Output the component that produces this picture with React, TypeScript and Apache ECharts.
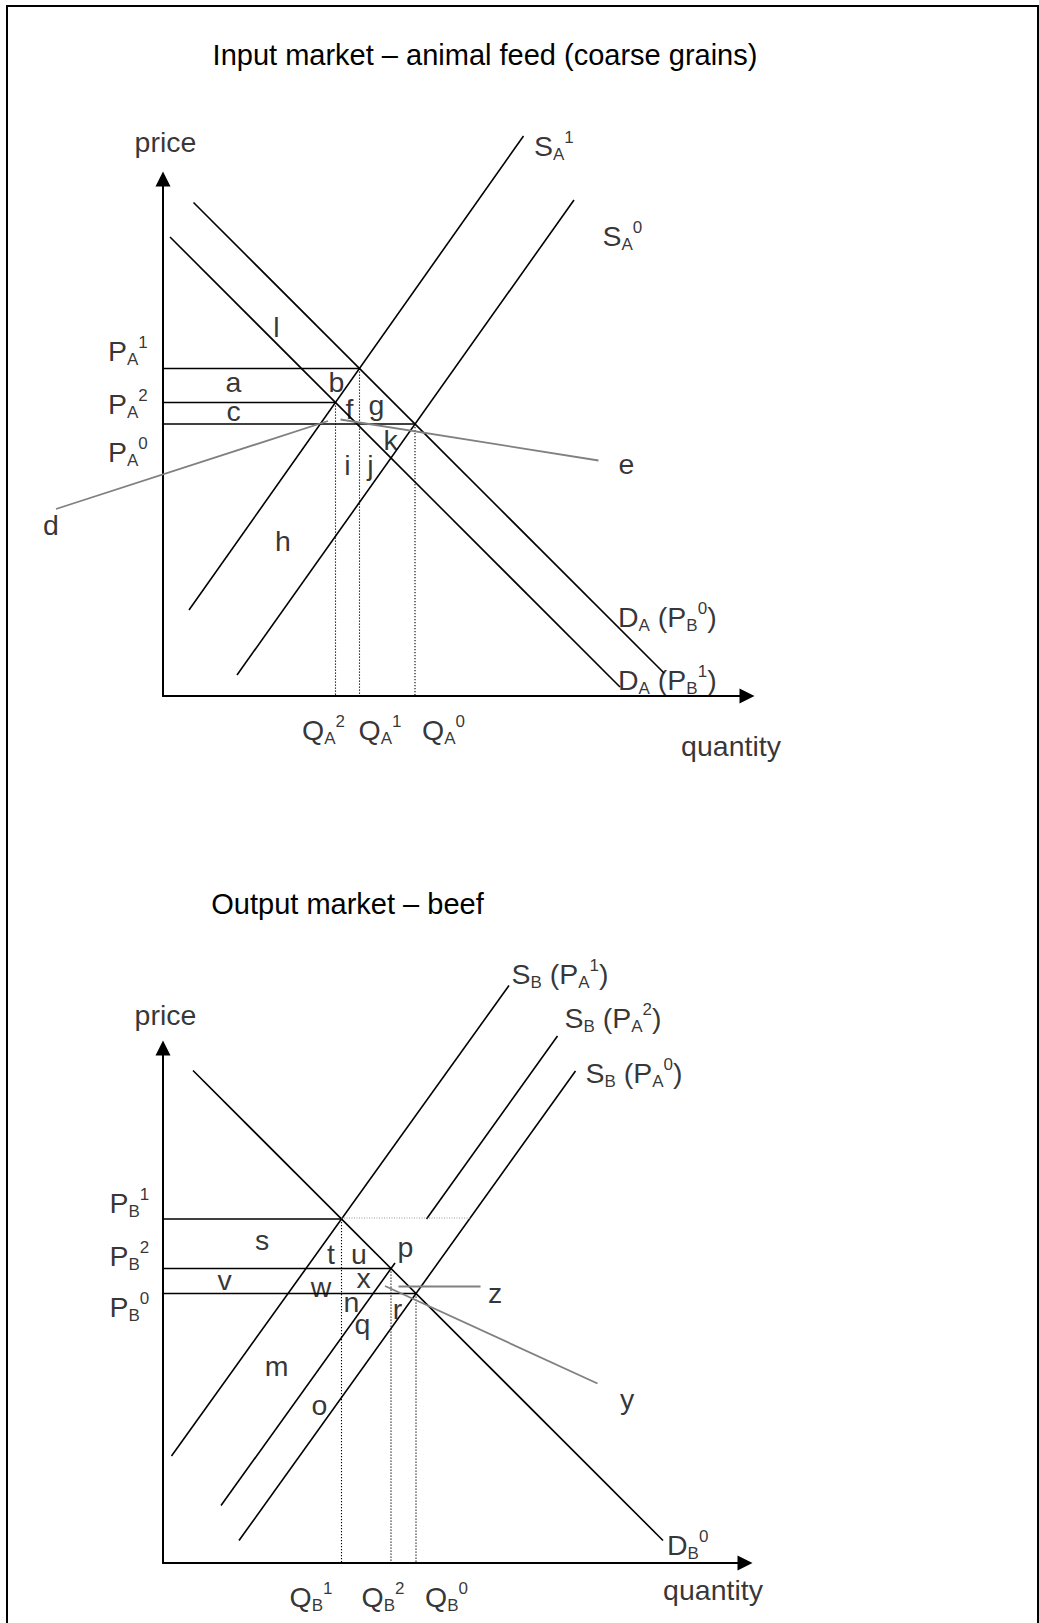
import React, { useEffect, useRef } from 'react';
import * as echarts from 'echarts';

const FONT = '"Liberation Sans", Arial, Helvetica, sans-serif';

// ---------------- Input market – animal feed (units: 1 = 5px) ----------------
const priceA = [65.5, 58.7, 54.4]; // P_A^1, P_A^2, P_A^0
const quantityA = [39.3, 34.5, 50.4]; // Q_A^1, Q_A^2, Q_A^0
const demandA_PB0 = [[6.1, 98.7], [100.2, 4.6]];
const demandA_PB1 = [[1.4, 91.8], [91.4, 1.8]];
const supplyA1 = [[5.2, 17.2], [72.1, 112.0]];
const supplyA0 = [[14.8, 4.2], [82.2, 99.2]];
const pointerD = [[-21.4, 37.4], [33.0, 55.0]];
const pointerE = [[35.5, 55.3], [87.1, 47.1]];

const lettersA: [string, number, number][] = [
  ['l', 22.7, 73.9], ['a', 14.1, 62.8], ['b', 34.7, 62.9], ['c', 14.1, 57.0],
  ['f', 37.3, 57.5], ['g', 42.7, 58.2], ['k', 45.5, 51.2], ['i', 36.9, 46.2],
  ['j', 41.5, 46.3], ['h', 24.0, 31.0], ['e', 92.7, 46.4],
];
const outsideLettersA: [string, number, number][] = [['d', -22.4, 34.2]];
const axisTextA: [string, number, number][] = [
  ['price', 0.5, 110.9], ['quantity', 113.6, -10.0],
];
const richLabelsA: [string, number, number][] = [
  ['{m|P}{sub|A}{sup|1}', -11.0, 69.0],
  ['{m|P}{sub|A}{sup|2}', -11.0, 58.4],
  ['{m|P}{sub|A}{sup|0}', -11.0, 48.9],
  ['{m|Q}{sub|A}{sup|2}', 27.8, -6.7],
  ['{m|Q}{sub|A}{sup|1}', 39.1, -6.7],
  ['{m|Q}{sub|A}{sup|0}', 51.8, -6.7],
  ['{m|S}{sub|A}{sup|1}', 74.2, 110.1],
  ['{m|S}{sub|A}{sup|0}', 87.9, 92.0],
  ['{m|D}{sub|A}{m|\u00a0(P}{sub|B}{sup|0}{m|)}', 91.0, 15.9],
  ['{m|D}{sub|A}{m|\u00a0(P}{sub|B}{sup|1}{m|)}', 91.0, 3.2],
];

// ---------------- Output market – beef ----------------
const priceB = [68.8, 58.9, 53.9]; // P_B^1, P_B^2, P_B^0
const quantityB = [35.7, 45.6, 50.6]; // Q_B^1, Q_B^2, Q_B^0
const demandB0 = [[6.0, 98.5], [100.0, 4.5]];
const supplyB_PA1 = [[1.7, 21.4], [69.2, 115.5]];
const supplyB_PA2Upper = [[52.7, 68.8], [78.9, 105.4]];
const supplyB_PA2Lower = [[11.6, 11.5], [46.4, 60.0]];
const supplyB_PA0 = [[15.2, 4.5], [82.5, 98.4]];
const guideB1 = [[35.7, 69.0], [61.4, 69.0]];
const pointerZ = [[47.1, 55.3], [63.5, 55.3]];
const pointerY = [[44.4, 55.4], [86.9, 35.9]];

const lettersB: [string, number, number][] = [
  ['s', 19.8, 64.7], ['t', 33.6, 61.9], ['u', 39.2, 61.8], ['p', 48.5, 63.3],
  ['v', 12.3, 56.6], ['w', 31.6, 55.3], ['x', 40.1, 57.1], ['n', 37.7, 52.2],
  ['r', 46.9, 50.9], ['q', 39.9, 47.8], ['z', 66.4, 54.1], ['m', 22.7, 39.4],
  ['o', 31.3, 31.7], ['y', 92.8, 32.8],
];
const axisTextB: [string, number, number][] = [
  ['price', 0.5, 109.6], ['quantity', 110.0, -5.3],
];
const richLabelsB: [string, number, number][] = [
  ['{m|P}{sub|B}{sup|1}', -10.7, 72.1],
  ['{m|P}{sub|B}{sup|2}', -10.7, 61.4],
  ['{m|P}{sub|B}{sup|0}', -10.7, 51.3],
  ['{m|Q}{sub|B}{sup|1}', 25.3, -6.8],
  ['{m|Q}{sub|B}{sup|2}', 39.7, -6.8],
  ['{m|Q}{sub|B}{sup|0}', 52.4, -6.8],
  ['{m|S}{sub|B}{m|\u00a0(P}{sub|A}{sup|1}{m|)}', 69.7, 117.8],
  ['{m|S}{sub|B}{m|\u00a0(P}{sub|A}{sup|2}{m|)}', 80.3, 109.1],
  ['{m|S}{sub|B}{m|\u00a0(P}{sub|A}{sup|0}{m|)}', 84.5, 98.1],
  ['{m|D}{sub|B}{sup|0}', 100.8, 3.6],
];

const BLACK = '#000';
const GRAY = '#808080';
const solid = { color: BLACK, width: 1.6 };
const dotted = { color: BLACK, width: 1.1, type: [1.2, 1.8] };
const grayLine = { color: GRAY, width: 1.8 };
const grayDotted = { color: '#999', width: 1, type: [1, 1.5] };

const rich = {
  m: { fontSize: 28.5, fontFamily: FONT, color: BLACK, lineHeight: 34 },
  sub: { fontSize: 17, fontFamily: FONT, color: BLACK, lineHeight: 19.4, verticalAlign: 'bottom' },
  sup: { fontSize: 17, fontFamily: FONT, color: BLACK, lineHeight: 17.6, verticalAlign: 'top' },
};

function seg(data: number[][], g: number, style: any, z = 2): any {
  return {
    type: 'line', xAxisIndex: g, yAxisIndex: g, data, symbol: 'none', showSymbol: false,
    clip: false, silent: true, animation: false, lineStyle: style, z,
  };
}

function labels(items: [string, number, number][], g: number, align: string): any {
  return {
    type: 'scatter', xAxisIndex: g, yAxisIndex: g, symbolSize: 1, clip: false, silent: true,
    animation: false, itemStyle: { color: 'rgba(0,0,0,0)' },
    data: items.map(([t, x, y]) => ({ name: t, value: [x, y] })),
    label: {
      show: true, position: 'inside', align, verticalAlign: 'middle',
      formatter: (p: any) => p.name, fontFamily: FONT, fontSize: 28.5, color: BLACK, rich,
    },
    z: 5,
  };
}

function marketSeries(
  g: number, prices: number[], qs: number[], curves: number[][][], pointers: number[][][],
  extra: any[], letters: [string, number, number][], axisText: [string, number, number][],
  richLabels: [string, number, number][],
): any[] {
  const out: any[] = [];
  curves.forEach((c) => out.push(seg(c, g, solid)));
  prices.forEach((p, i) => out.push(seg([[0, p], [qs[i], p]], g, solid)));
  prices.forEach((p, i) => out.push(seg([[qs[i], p], [qs[i], 0]], g, dotted)));
  pointers.forEach((c) => out.push(seg(c, g, grayLine, 3)));
  extra.forEach((e) => out.push(e));
  out.push(labels(letters, g, 'center'));
  out.push(labels(axisText, g, 'center'));
  out.push(labels(richLabels, g, 'left'));
  return out;
}

function axisPair(g: number, xMin: number, xMax: number, yMax: number, visible: boolean) {
  const axisLine = {
    show: visible, onZero: false, symbol: ['none', 'triangle'], symbolSize: [15, 15],
    lineStyle: { color: BLACK, width: 2 },
  };
  const common = {
    type: 'value', gridIndex: g, min: 0, axisTick: { show: false }, axisLabel: { show: false },
    splitLine: { show: false }, axisLine,
  };
  return [
    { ...common, min: xMin, max: xMax },
    { ...common, max: yMax },
  ];
}

function buildOption(): any {
  const [x0, y0] = axisPair(0, 0, 116.8, 103.4, true);
  const [x1, y1] = axisPair(1, 0, 116.4, 103.0, true);
  // overlay with the same scale as the input market, extended left of the price axis
  const [x2, y2] = axisPair(2, -30, 116.8, 103.4, false);
  const series = [
    ...marketSeries(0, priceA, quantityA, [demandA_PB0, demandA_PB1, supplyA1, supplyA0],
      [pointerE], [], lettersA, axisTextA, richLabelsA),
    seg(pointerD, 2, grayLine, 3),
    labels(outsideLettersA, 2, 'center'),
    ...marketSeries(1, priceB, quantityB,
      [demandB0, supplyB_PA1, supplyB_PA2Upper, supplyB_PA2Lower, supplyB_PA0],
      [pointerZ, pointerY], [seg(guideB1, 1, grayDotted)], lettersB, axisTextB, richLabelsB),
  ];
  return {
    animation: false,
    backgroundColor: '#fff',
    grid: [
      { left: 163, top: 179, width: 584, height: 517 },
      { left: 163, top: 1048, width: 582, height: 515 },
      { left: 13, top: 179, width: 734, height: 517 },
    ],
    xAxis: [x0, x1, x2],
    yAxis: [y0, y1, y2],
    series,
    graphic: [
      {
        type: 'rect', shape: { x: 7, y: 6, width: 1031, height: 1700 }, silent: true,
        style: { fill: 'none', stroke: BLACK, lineWidth: 2 },
      },
      {
        type: 'text', x: 485, y: 55, silent: true,
        style: {
          text: 'Input market – animal feed (coarse grains)', fill: BLACK,
          font: `29px ${FONT}`, align: 'center', verticalAlign: 'middle',
        },
      },
      {
        type: 'text', x: 347.5, y: 903.5, silent: true,
        style: {
          text: 'Output market – beef', fill: BLACK,
          font: `29px ${FONT}`, align: 'center', verticalAlign: 'middle',
        },
      },
    ],
  };
}

export default function App() {
  const ref = useRef<HTMLDivElement>(null);
  useEffect(() => {
    const chart = echarts.init(ref.current!, null, { renderer: 'svg' });
    chart.setOption(buildOption());
    return () => chart.dispose();
  }, []);
  return (
    <div
      ref={ref}
      style={{ position: 'absolute', left: 0, top: 0, width: 1039, height: 1623, background: '#fff' }}
    />
  );
}
